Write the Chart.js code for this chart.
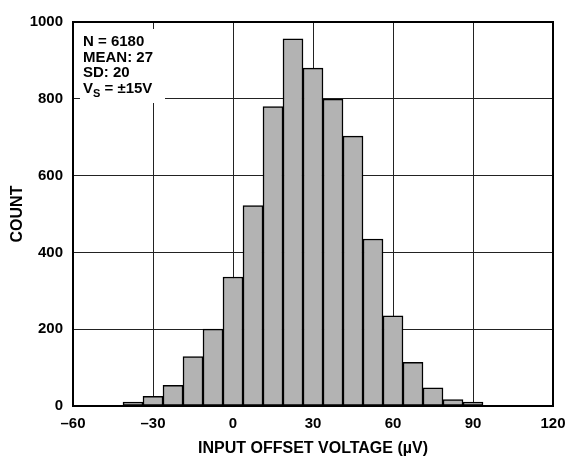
<!DOCTYPE html>
<html>
<head>
<meta charset="utf-8">
<script src="https://cdn.jsdelivr.net/npm/chart.js@4"></script>
<style>
  html, body { margin: 0; padding: 0; background: #fff; }
  canvas { display: block; }
</style>
</head>
<body>
<canvas id="histograma" width="569" height="457"></canvas>
<script>
// bins de 7.5 µV (centro de cada barra)
const centrosBin = [-37.5, -30, -22.5, -15, -7.5, 0, 7.5, 15, 22.5, 30, 37.5, 45, 52.5, 60, 67.5, 75, 82.5, 90];
const contagens = [10, 25, 54, 129, 200, 336, 522, 780, 956, 880, 799, 703, 435, 235, 114, 47, 17, 10];

const ticksX = [-60, -30, 0, 30, 60, 90, 120];
const ticksY = [0, 200, 400, 600, 800, 1000];

const linhasInfo = ['N = 6180', 'MEAN: 27', 'SD: 20'];

const FONTE = 'Liberation Sans, Arial, sans-serif';

// moldura completa da área do gráfico
const moldura = {
  id: 'moldura',
  afterDatasetsDraw(chart) {
    const { ctx, chartArea: a } = chart;
    ctx.save();
    ctx.strokeStyle = '#000';
    ctx.lineWidth = 2;
    ctx.strokeRect(a.left, a.top, a.right - a.left, a.bottom - a.top);
    ctx.restore();
  }
};

// caixa de texto com N, média, desvio e alimentação
const caixaInfo = {
  id: 'caixaInfo',
  beforeDatasetsDraw(chart) {
    const { ctx, chartArea: a } = chart;
    const x = a.left + 10;
    let y = a.top + 24;
    ctx.save();
    ctx.fillStyle = '#fff';
    ctx.fillRect(a.left + 7, a.top + 7, 85, 74);
    ctx.fillStyle = '#000';
    ctx.font = 'bold 15px ' + FONTE;
    ctx.textBaseline = 'alphabetic';
    linhasInfo.forEach(t => {
      ctx.fillText(t, x, y);
      y += 15.6;
    });
    ctx.fillText('V', x, y);
    let w = ctx.measureText('V').width;
    ctx.font = 'bold 11px ' + FONTE;
    ctx.fillText('S', x + w, y + 4);
    w += ctx.measureText('S').width;
    ctx.font = 'bold 15px ' + FONTE;
    ctx.fillText(' = ±15V', x + w, y);
    ctx.restore();
  }
};

const ctx = document.getElementById('histograma');

new Chart(ctx, {
  type: 'bar',
  data: {
    datasets: [{
      data: centrosBin.map((c, i) => ({ x: c, y: contagens[i] })),
      backgroundColor: '#b3b3b3',
      borderColor: '#000',
      borderWidth: 1.5,
      borderSkipped: false,
      barPercentage: 1,
      categoryPercentage: 1
    }]
  },
  options: {
    responsive: false,
    animation: false,
    layout: { padding: { top: 22, right: 16, left: 0, bottom: 0 } },
    plugins: {
      legend: { display: false },
      tooltip: { enabled: false }
    },
    scales: {
      x: {
        type: 'linear',
        min: -60,
        max: 120,
        offset: false,
        afterBuildTicks: s => { s.ticks = ticksX.map(v => ({ value: v })); },
        afterFit: s => {
          s.height = 51;
          s.paddingLeft = 0;
          s.paddingRight = 0;
        },
        grid: { offset: false, color: '#222', lineWidth: 1, drawTicks: false },
        border: { display: false },
        ticks: {
          padding: 9,
          color: '#000',
          font: { family: FONTE, size: 15, weight: 'bold' },
          maxRotation: 0,
          callback: v => v < 0 ? '\u2013' + Math.abs(v) : String(v)
        },
        title: {
          display: true,
          text: 'INPUT OFFSET VOLTAGE (µV)',
          color: '#000',
          font: { family: FONTE, size: 16, weight: 'bold', lineHeight: 1 },
          padding: { top: 0, bottom: 0 }
        }
      },
      y: {
        min: 0,
        max: 1000,
        afterBuildTicks: s => { s.ticks = ticksY.map(v => ({ value: v })); },
        afterFit: s => {
          s.width = 73;
          s.paddingTop = 0;
          s.paddingBottom = 0;
        },
        grid: { color: '#222', lineWidth: 1, drawTicks: false },
        border: { display: false },
        ticks: {
          padding: 10,
          color: '#000',
          font: { family: FONTE, size: 15, weight: 'bold' },
          callback: v => String(v)
        },
        title: {
          display: true,
          text: 'COUNT',
          color: '#000',
          font: { family: FONTE, size: 16, weight: 'bold' },
          padding: { top: 8, bottom: 4 }
        }
      }
    }
  },
  plugins: [caixaInfo, moldura]
});
</script>
</body>
</html>
